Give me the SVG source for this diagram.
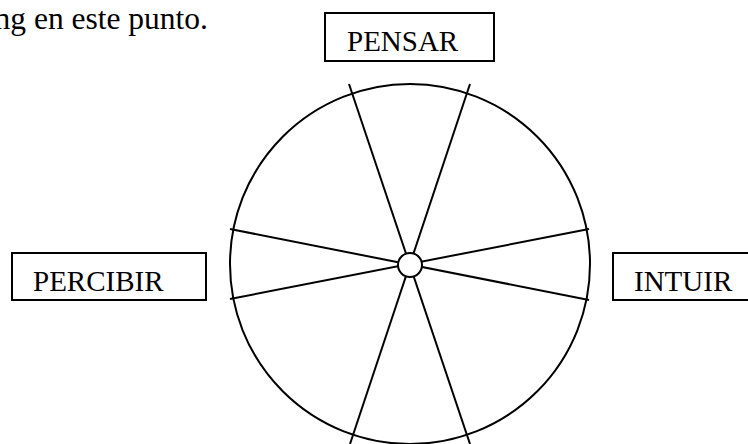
<svg xmlns="http://www.w3.org/2000/svg" width="748" height="444" viewBox="0 0 748 444">
<style>
.t{font-family:"Liberation Serif","Times New Roman",serif;font-size:29px;fill:#000}
.box{fill:#fff;stroke:#000;stroke-width:2}
.ln{stroke:#000;stroke-width:2;fill:none}
</style>
<rect width="748" height="444" fill="#fff"/>
<text class="t" x="208" y="29" text-anchor="end" style="font-size:31.5px">ng en este punto.</text>
<g id="pensar"><rect class="box" x="325" y="13" width="169" height="48"/><text class="t" x="347" y="51">PENSAR</text></g>
<g id="percibir"><rect class="box" x="12" y="253" width="194" height="47"/><text class="t" x="33" y="291">PERCIBIR</text></g>
<g id="intuir"><rect class="box" x="613" y="253" width="140" height="47"/><text class="t" x="634" y="291">INTUIR</text></g>
<g id="wheel">
<circle class="ln" cx="410" cy="264" r="180"/>
<g id="connectors">
<line class="ln" x1="349" y1="84" x2="470" y2="444"/>
<line class="ln" x1="470" y1="84" x2="350" y2="444"/>
<line class="ln" x1="230" y1="229" x2="589" y2="300"/>
<line class="ln" x1="230" y1="299" x2="589" y2="229"/>
</g>
<circle cx="410" cy="265" r="12" fill="#fff" stroke="#000" stroke-width="2"/>
</g>
</svg>
